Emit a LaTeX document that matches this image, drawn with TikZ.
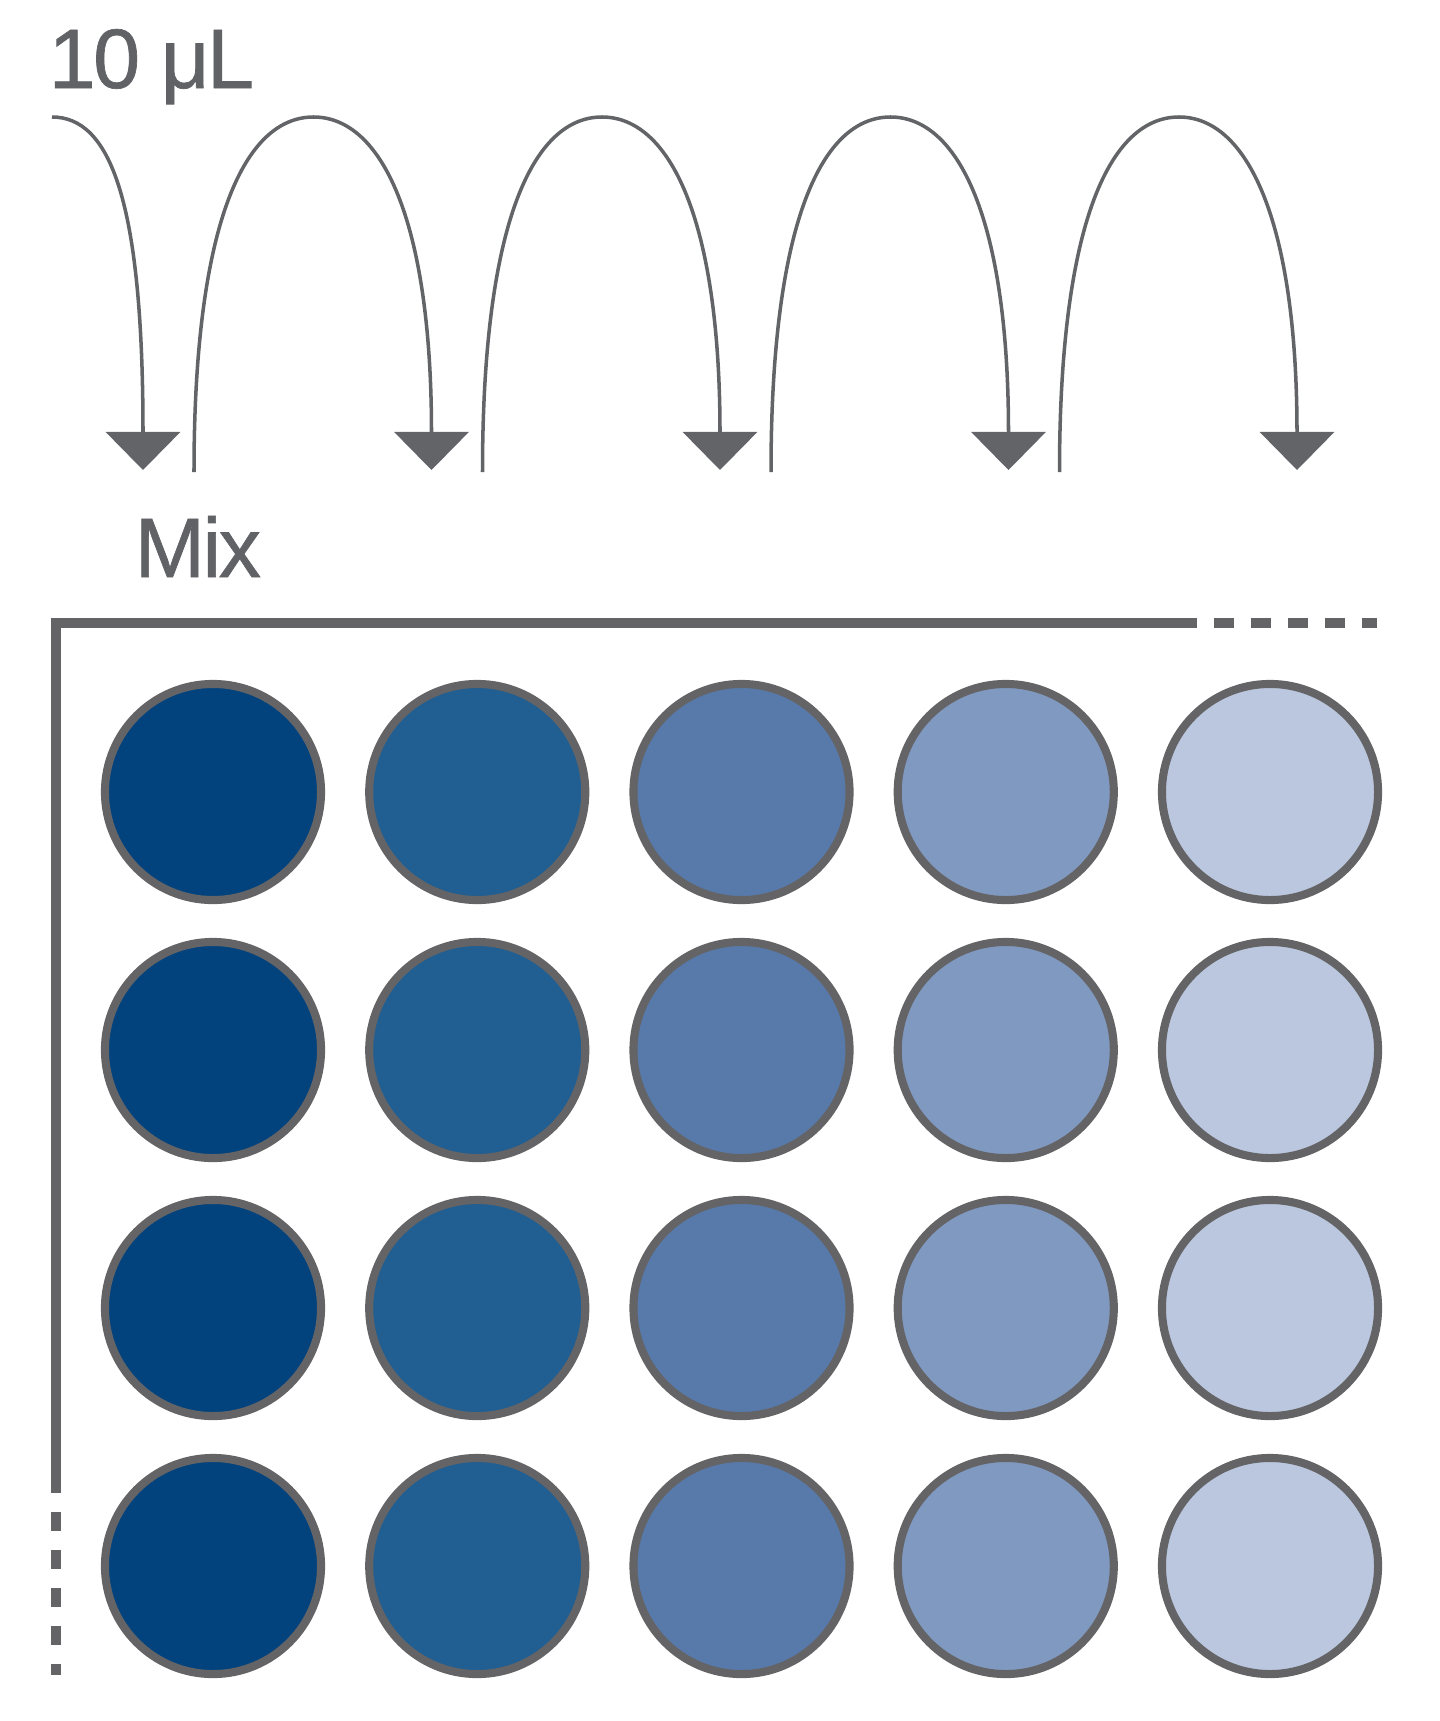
\documentclass[tikz,border=0pt]{standalone}
\usepackage{fontspec}
\newfontfamily\labelfont{Liberation Sans}[LetterSpace=-3, FakeBold=0.8]
\usetikzlibrary{arrows.meta, positioning, calc}
\definecolor{plategray}{HTML}{646466}
\definecolor{arrowgray}{HTML}{626467}
\definecolor{labelgray}{HTML}{606266}
\definecolor{wellA}{HTML}{03437D}
\definecolor{wellB}{HTML}{215E91}
\definecolor{wellC}{HTML}{577AAA}
\definecolor{wellD}{HTML}{8099C0}
\definecolor{wellE}{HTML}{BAC7DE}
\tikzset{
  well/.style={circle, draw=plategray, line width=2.3pt, inner sep=0pt, minimum size=2.16cm},
  transfer/.style={-{Triangle[width=0.74cm,length=0.38cm]}, draw=arrowgray, line width=1pt},
  rim/.style={draw=plategray, line width=2.6pt},
  steplabel/.style={font=\labelfont\fontsize{24}{28}\selectfont, text=labelgray, inner sep=0pt, anchor=base west}
}

\begin{document}
\begin{tikzpicture}[x=0.01cm, y=-0.01cm]
  \useasboundingbox (0,0) rectangle (1440,1721);

  % Labels
  \node[steplabel] (vol) at (48,88) {10 μL};
  \node[steplabel] (mix) at (134,577) {Mix};

  % Wells (dilution series, one colour per column)
  \foreach \c/\col in {0/wellA,1/wellB,2/wellC,3/wellD,4/wellE}
    \foreach \r in {0,...,3}
      \node[well, fill=\col] (w\r\c) at ({213+264.25*\c}, {792+258*\r}) {};

  % Plate rim
  \coordinate (rimA) at (56,1493);
  \coordinate (rimB) at (56,623);
  \coordinate (rimC) at (1197,623);
  \coordinate (rimD) at (1377,623);
  \coordinate (rimE) at (56,1675);
  \draw[rim, line join=miter] (rimA) -- (rimB) -- (rimC);
  \draw[rim, dash pattern=on 0.2cm off 0.17cm, dash phase=0.2cm] (rimC) -- (rimD);
  \draw[rim, dash pattern=on 0.19cm off 0.19cm, dash phase=0.19cm] (rimA) -- (rimE);

  % Transfer arrows
  \coordinate (src) at (52,117);
  \foreach \k in {0,...,4}
    \coordinate (tip\k) at ({143+288.5*\k},470);
  \foreach \k in {1,...,4} {
    \coordinate (lift\k) at ({194+288.5*(\k-1)},472);
    \coordinate (crest\k) at ({313.5+288.5*(\k-1)},117);
  }
  \draw[transfer] (src) .. controls +(58,0) and +(0,-270) .. (tip0);
  \foreach \k in {1,...,4}
    \draw[transfer] (lift\k) .. controls +(0,-252) and +(-68,0) .. (crest\k)
      .. controls +(68,0) and +(0,-250) .. (tip\k);
\end{tikzpicture}
\end{document}
